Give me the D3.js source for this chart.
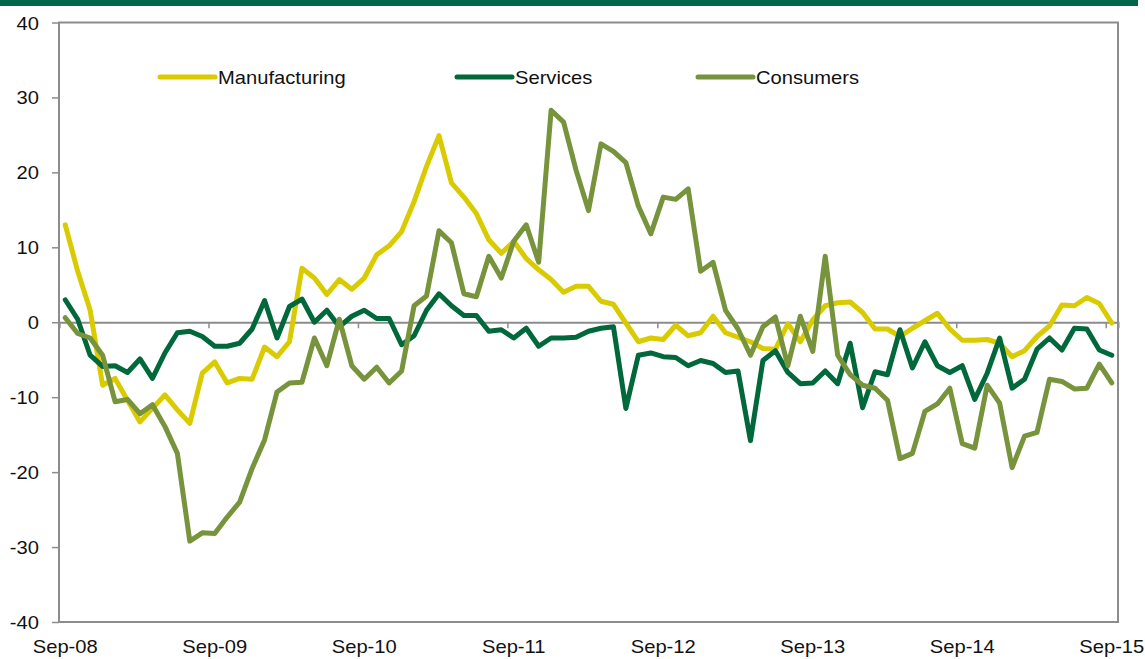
<!DOCTYPE html>
<html>
<head>
<meta charset="utf-8">
<script src="https://cdn.jsdelivr.net/npm/d3@7"></script>
<style>
  html, body { margin: 0; padding: 0; background: #fff; }
  svg { display: block; }
  text { font-family: "Liberation Sans", Arial, sans-serif; fill: #111; }
</style>
</head>
<body>
<svg id="chart" width="1145" height="659"></svg>
<script>
// Monthly balances, Sep-08 .. Sep-15 (85 months)
const startMonth = new Date(2008, 8, 1);
const months = d3.timeMonth.range(startMonth, new Date(2015, 9, 1));

const manufacturing = [
  13.0, 6.8, 1.6, -8.4, -7.5, -10.4, -13.3, -11.5, -9.7, -11.7,
  -13.5, -6.8, -5.3, -8.1, -7.5, -7.6, -3.3, -4.6, -2.6, 7.2,
  5.9, 3.7, 5.7, 4.4, 5.9, 9.0, 10.2, 12.1, 16.1, 20.8,
  24.9, 18.6, 16.7, 14.5, 11.0, 9.2, 10.8, 8.5, 7.0, 5.7,
  4.0, 4.8, 4.8, 2.8, 2.4, -0.1, -2.6, -2.1, -2.3, -0.4,
  -1.8, -1.4, 0.8, -1.4, -2.0, -2.6, -3.5, -3.6, -0.2, -2.6,
  0.3, 2.2, 2.6, 2.7, 1.3, -0.9, -0.9, -1.9, -0.8, 0.2,
  1.2, -0.9, -2.4, -2.4, -2.3, -2.8, -4.6, -3.8, -1.9, -0.5,
  2.3, 2.2, 3.3, 2.5, -0.1
];

const services = [
  3.0, 0.4, -4.4, -5.9, -5.8, -6.7, -4.9, -7.5, -4.1, -1.4,
  -1.2, -1.9, -3.2, -3.2, -2.8, -0.9, 2.9, -2.1, 2.1, 3.1,
  0.0, 1.6, -0.6, 0.8, 1.6, 0.5, 0.5, -3.0, -1.8, 1.6,
  3.8, 2.2, 0.9, 0.9, -1.2, -1.0, -2.1, -0.8, -3.2, -2.1,
  -2.1, -2.0, -1.2, -0.8, -0.6, -11.5, -4.4, -4.1, -4.6, -4.7,
  -5.8, -5.1, -5.5, -6.7, -6.5, -15.8, -5.1, -3.8, -6.7, -8.2,
  -8.1, -6.5, -8.2, -2.8, -11.4, -6.6, -7.0, -1.0, -6.1, -2.6,
  -5.8, -6.7, -5.8, -10.3, -6.8, -2.1, -8.8, -7.6, -3.6, -2.1,
  -3.7, -0.8, -0.9, -3.7, -4.4
];

const consumers = [
  0.6, -1.5, -2.1, -4.4, -10.6, -10.3, -12.2, -11.0, -13.9, -17.5,
  -29.2, -28.1, -28.2, -26.0, -24.0, -19.5, -15.7, -9.3, -8.1, -8.0,
  -2.1, -5.8, 0.4, -5.8, -7.6, -6.0, -8.1, -6.5, 2.2, 3.5,
  12.2, 10.6, 3.8, 3.4, 8.8, 5.9, 10.8, 13.0, 8.0, 28.3,
  26.7, 20.3, 14.9, 23.8, 22.8, 21.3, 15.5, 11.8, 16.7, 16.4,
  17.8, 6.8, 8.0, 1.6, -0.9, -4.4, -0.6, 0.7, -5.8, 0.8,
  -3.9, 8.8, -4.4, -7.0, -8.4, -8.8, -10.4, -18.2, -17.5, -11.9,
  -10.9, -8.8, -16.2, -16.8, -8.4, -10.8, -19.4, -15.2, -14.7, -7.6,
  -7.9, -8.9, -8.8, -5.6, -8.1
];

const seriesNames = ["Manufacturing", "Services", "Consumers"];
const seriesColors = ["#d9cb00", "#00683a", "#77933c"];
const yTickValues = [-40, -30, -20, -10, 0, 10, 20, 30, 40];
const xTickLabels = ["Sep-08", "Sep-09", "Sep-10", "Sep-11", "Sep-12", "Sep-13", "Sep-14", "Sep-15"];

const svg = d3.select("#chart");
const plotL = 59, plotR = 1118, plotT = 22.5, plotB = 622;
const axisGrey = "#8c8c8c";
const textScaleX = 1.12;

// band header
svg.append("rect").attr("x", 0).attr("y", 0).attr("width", 1138).attr("height", 6).attr("fill", "#006548");

// month scale: each month occupies one slot, values plotted at the slot centre
const x = d3.scaleTime()
  .domain([startMonth, d3.timeMonth.offset(startMonth, months.length)])
  .range([plotL, plotR]);
const monthIdx = d3.scaleLinear().domain([0, months.length]).range([plotL, plotR]);
const xc = i => monthIdx(i + 0.5);

const y = d3.scaleLinear().domain([-40, 40]).range([plotB, plotT]);

// y axis
const yAxis = svg.append("g").attr("transform", `translate(${plotL},0)`)
  .call(d3.axisLeft(y).tickValues(yTickValues).tickSize(7).tickFormat(d3.format("d")));
yAxis.select(".domain").remove();
yAxis.selectAll(".tick line").attr("stroke", axisGrey).attr("stroke-width", 1.5);
yAxis.selectAll(".tick text").remove();
yAxis.selectAll(".tick").append("text")
  .attr("text-anchor", "end")
  .attr("font-size", 18)
  .attr("transform", `translate(-20,6.5) scale(${textScaleX},1)`)
  .text(d => d);

// frame
svg.append("rect")
  .attr("x", plotL).attr("y", plotT)
  .attr("width", plotR - plotL).attr("height", plotB - plotT)
  .attr("fill", "none").attr("stroke", axisGrey).attr("stroke-width", 2);

// zero line with yearly ticks
const yearTicks = xTickLabels.map((_, k) => d3.timeMonth.offset(startMonth, 12 * k));
const xAxis = svg.append("g").attr("transform", `translate(0,${y(0)})`)
  .call(d3.axisBottom(x).tickValues(yearTicks).tickSize(6).tickFormat(""));
xAxis.select(".domain").attr("stroke", axisGrey).attr("stroke-width", 2);
xAxis.selectAll(".tick line").attr("stroke", axisGrey).attr("stroke-width", 1.5);

// x labels, centred on the September of each year
svg.append("g").selectAll("text").data(xTickLabels).join("text")
  .attr("text-anchor", "middle")
  .attr("font-size", 18)
  .attr("transform", (d, k) => `translate(${xc(12 * k)},653) scale(${textScaleX},1)`)
  .text(d => d);

// series lines
const line = d3.line().x((d, i) => xc(i)).y(d => y(d));
[manufacturing, services, consumers].forEach((vals, k) => {
  svg.append("path")
    .datum(vals)
    .attr("d", line)
    .attr("fill", "none")
    .attr("stroke", seriesColors[k])
    .attr("stroke-width", 5)
    .attr("stroke-linejoin", "round")
    .attr("stroke-linecap", "round");
});

// legend
const legendX = [160, 457, 698];
const lg = svg.append("g").selectAll("g").data(seriesNames).join("g")
  .attr("transform", (d, k) => `translate(${legendX[k]},77)`);
lg.append("line").attr("x1", 0).attr("x2", 55).attr("y1", 0).attr("y2", 0)
  .attr("stroke", (d, k) => seriesColors[k]).attr("stroke-width", 5).attr("stroke-linecap", "round");
lg.append("text")
  .attr("font-size", 18)
  .attr("transform", `translate(58,6.5) scale(${textScaleX},1)`)
  .text(d => d);
</script>
</body>
</html>
